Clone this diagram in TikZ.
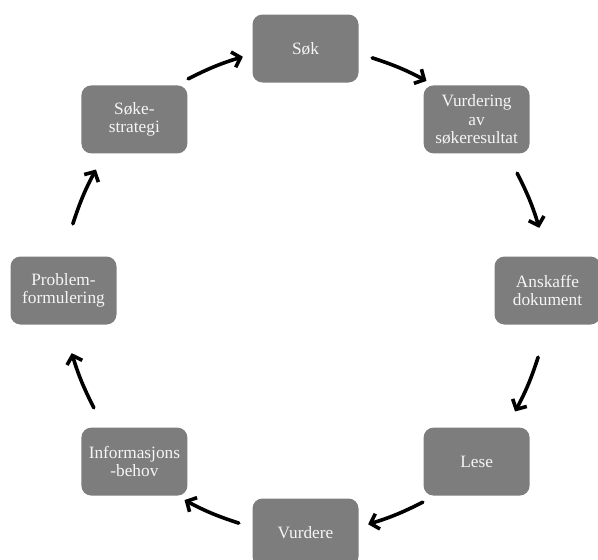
\documentclass[tikz,border=0pt]{standalone}
\usepackage{fontspec}
\setmainfont{Liberation Serif}
\usetikzlibrary{arrows.meta,calc}
\definecolor{boxgray}{RGB}{125,125,125}
\definecolor{boxtext}{RGB}{245,245,245}
\begin{document}
\begin{tikzpicture}[x=1pt,y=-1pt,
  stepbox/.style={rectangle, rounded corners=10pt, fill=boxgray, text=boxtext,
    minimum width=106pt, minimum height=68pt, inner sep=2pt, align=center,
    font=\fontsize{17.3}{18.4}\selectfont},
  cyc/.style={line width=3.6pt, line cap=round, line join=round,
    -{Straight Barb[length=7.5pt,width=16pt]}}]
\useasboundingbox (0,0) rectangle (598,560);
% centre of the cycle
\coordinate (ctr) at (305.5,290.5);
% the eight steps, clockwise from the top
\node[stepbox] (sok)   at (305.5,48.5)  {Søk};
\node[stepbox] (vurd)  at (476.6,119.4) {Vurdering\\av\\søkeresultat};
\node[stepbox] (ansk)  at (547.5,290.5) {Anskaffe\\dokument};
\node[stepbox] (lese)  at (476.6,461.6) {Lese};
\node[stepbox] (vurde) at (305.5,532.5) {Vurdere};
\node[stepbox] (info)  at (134.4,461.6) {Informasjons\\-behov};
\node[stepbox] (prob)  at (63.5,290.5)  {Problem-\\formulering};
\node[stepbox] (strat) at (134.4,119.4) {Søke-\\strategi};
% arrows along the circle between neighbouring steps
\foreach \a/\b in {sok/vurd, vurd/ansk, ansk/lese, lese/vurde,
                   vurde/info, info/prob, prob/strat, strat/sok}
  \draw[cyc] ($(ctr)!1!-16:(\a)$) to[bend left=5] ($(ctr)!1!15:(\b)$);
\end{tikzpicture}
\end{document}
